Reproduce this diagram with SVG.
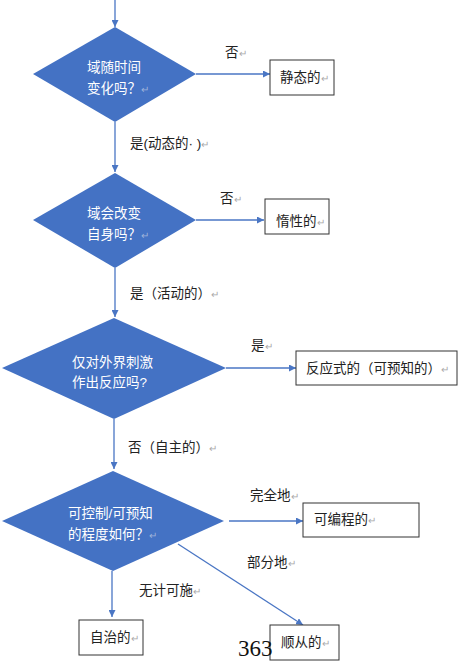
<svg xmlns="http://www.w3.org/2000/svg" width="461" height="662" viewBox="0 0 461 662">
<style>
text{font-family:"Liberation Sans","Noto Sans CJK SC",sans-serif;font-size:13.5px;fill:#222}
.d{fill:#4472c4}
.dt{fill:#fff;font-size:13.5px}
.b{fill:#fff;stroke:#333;stroke-width:1}
.c{stroke:#4a76c4;stroke-width:1.3;fill:none}
.r{fill:#aaa;font-size:10px}
.rw{fill:#9fb3da;font-size:10px}
</style>
<defs>
<marker id="a" viewBox="0 0 10 10" refX="10" refY="5" markerWidth="7" markerHeight="7" markerUnits="userSpaceOnUse" orient="auto"><path d="M0,0L10,5L0,10z" fill="#4a76c4"/></marker>
</defs>
<rect width="461" height="662" fill="#fff"/>
<g id="connectors">
<path class="c" d="M115,0V27" marker-end="url(#a)"/>
<path class="c" d="M196,74H270" marker-end="url(#a)"/>
<path class="c" d="M115,122V172" marker-end="url(#a)"/>
<path class="c" d="M196,220H264" marker-end="url(#a)"/>
<path class="c" d="M115,268V317" marker-end="url(#a)"/>
<path class="c" d="M226,368H296" marker-end="url(#a)"/>
<path class="c" d="M114,419V469" marker-end="url(#a)"/>
<path class="c" d="M229,521H303" marker-end="url(#a)"/>
<path class="c" d="M178,544L303,625" marker-end="url(#a)"/>
<path class="c" d="M112,571V617" marker-end="url(#a)"/>
<text x="225" y="57">否<tspan class="r">↵</tspan></text>
<text x="130" y="148">是(动态的· )<tspan class="r">↵</tspan></text>
<text x="220" y="203">否<tspan class="r">↵</tspan></text>
<text x="130" y="298">是（活动的）<tspan class="r">↵</tspan></text>
<text x="251" y="350">是<tspan class="r">↵</tspan></text>
<text x="128" y="452">否（自主的）<tspan class="r">↵</tspan></text>
<text x="250" y="500">完全地<tspan class="r">↵</tspan></text>
<text x="247" y="567">部分地<tspan class="r">↵</tspan></text>
<text x="139" y="595">无计可施<tspan class="r">↵</tspan></text>
</g>
<g id="d1"><path class="d" d="M115,27L196,74L115,122L33,74z"/><text class="dt" x="87" y="72">域随时间</text><text class="dt" x="87" y="93">变化吗？<tspan class="rw">↵</tspan></text></g>
<g id="b1"><rect class="b" x="270" y="60" width="64" height="35"/><text x="280" y="82">静态的<tspan class="r">↵</tspan></text></g>
<g id="d2"><path class="d" d="M115,173L196,220L115,268L33,220z"/><text class="dt" x="87" y="218">域会改变</text><text class="dt" x="87" y="239">自身吗？<tspan class="rw">↵</tspan></text></g>
<g id="b2"><rect class="b" x="265" y="199" width="64" height="35"/><text x="276" y="226">惰性的<tspan class="r">↵</tspan></text></g>
<g id="d3"><path class="d" d="M114,318L226,368L114,419L2,368z"/><text class="dt" x="72" y="367">仅对外界刺激</text><text class="dt" x="72" y="387">作出反应吗?</text></g>
<g id="b3"><rect class="b" x="296" y="351" width="161" height="34"/><text x="306" y="373">反应式的（可预知的）<tspan class="r">↵</tspan></text></g>
<g id="d4"><path class="d" d="M113,471L224,521L113,571L2,521z"/><text class="dt" x="68" y="518">可控制/可预知</text><text class="dt" x="68" y="539">的程度如何？<tspan class="rw">↵</tspan></text></g>
<g id="b4"><rect class="b" x="303" y="503" width="116" height="34"/><text x="314" y="524">可编程的<tspan class="r">↵</tspan></text></g>
<g id="b5"><rect class="b" x="79" y="620" width="64" height="35"/><text x="90" y="642">自治的<tspan class="r">↵</tspan></text></g>
<g id="b6"><rect class="b" x="270" y="625" width="69" height="35"/><text x="281" y="647">顺从的<tspan class="r">↵</tspan></text></g>
<text x="238" y="656" style="font-family:'Liberation Serif',serif;font-size:23px;fill:#111">363</text>
</svg>
